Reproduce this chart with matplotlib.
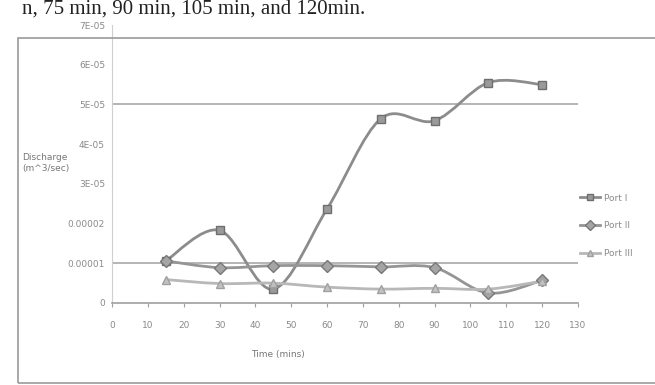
import matplotlib
matplotlib.use("Agg")
import matplotlib.pyplot as plt
import numpy as np
from matplotlib.lines import Line2D
from matplotlib.patches import PathPatch, Rectangle
from matplotlib.path import Path

# sampling times (min) and discharge at each port (m^3/sec)
time_min = [15, 30, 45, 60, 75, 90, 105, 120]
port_1 = [1.06e-5, 1.83e-5, 0.35e-5, 2.37e-5, 4.64e-5, 4.59e-5, 5.55e-5, 5.50e-5]
port_2 = [1.06e-5, 0.89e-5, 0.94e-5, 0.94e-5, 0.91e-5, 0.89e-5, 0.25e-5, 0.57e-5]
port_3 = [0.59e-5, 0.49e-5, 0.50e-5, 0.40e-5, 0.35e-5, 0.37e-5, 0.35e-5, 0.55e-5]
series_names = ["Port I", "Port II", "Port III"]

x_ticks = list(range(0, 140, 10))
y_ticks = [0, 1e-5, 2e-5, 3e-5, 4e-5, 5e-5, 6e-5, 7e-5]
y_tick_labels = ["0", "0.00001", "0.00002", "3E-05", "4E-05", "5E-05", "6E-05", "7E-05"]
grid_levels = [1e-5, 5e-5]


def smooth_path(x, y):
    # Catmull-Rom style bezier through the points (spreadsheet "smoothed line")
    pts = np.column_stack([x, y]).astype(float)
    verts = [pts[0]]
    codes = [Path.MOVETO]
    n = len(pts)
    for i in range(n - 1):
        p0 = pts[i - 1] if i > 0 else pts[i]
        p3 = pts[i + 2] if i + 2 < n else pts[i + 1]
        c1 = pts[i] + (pts[i + 1] - p0) / 6
        c2 = pts[i + 1] - (p3 - pts[i]) / 6
        verts += [c1, c2, pts[i + 1]]
        codes += [Path.CURVE4] * 3
    return Path(verts, codes)


fig = plt.figure(figsize=(6.55, 3.85), dpi=100)
fig.patch.set_facecolor("white")

# chart-area frame
fig.patches.append(Rectangle((18 / 655, 2 / 385), 650 / 655, 345 / 385,
                             transform=fig.transFigure, fill=False,
                             edgecolor="#9a9a9a", lw=1.2))

# running text of the page above the chart
fig.text(22 / 655, 1 - 14 / 385, "n, 75 min, 90 min, 105 min, and 120min.",
         family="Liberation Serif", fontsize=15, color="#222222", va="baseline")

ax = fig.add_axes([112 / 655, 1 - 303 / 385, 466 / 655, 278 / 385])
ax.set_xlim(0, 130)
ax.set_ylim(0, 7e-5)

for lvl in grid_levels:
    ax.axhline(lvl, color="#a8a8a8", lw=1.2, zorder=1)

styles = [
    dict(color="#8c8c8c", marker="s", mfc="#9a9a9a", mec="#6e6e6e"),
    dict(color="#959595", marker="D", mfc="#a5a5a5", mec="#777777"),
    dict(color="#b8b8b8", marker="^", mfc="#c2c2c2", mec="#a0a0a0"),
]
handles = []
for vals, st, name in zip([port_1, port_2, port_3], styles, series_names):
    ax.add_patch(PathPatch(smooth_path(time_min, vals), facecolor="none",
                           edgecolor=st["color"], lw=2.0, zorder=2))
    ax.plot(time_min, vals, ls="none", marker=st["marker"], ms=6,
            mfc=st["mfc"], mec=st["mec"], mew=1.0, zorder=3)
    handles.append(Line2D([], [], color=st["color"], lw=2.0, marker=st["marker"],
                          ms=5, mfc=st["mfc"], mec=st["mec"], label=name))

ax.set_xticks(x_ticks)
ax.set_yticks(y_ticks)
ax.set_yticklabels(y_tick_labels)
ax.tick_params(axis="both", labelsize=6.5, labelcolor="#8a8a8a", colors="#a0a0a0")
ax.tick_params(axis="x", length=3, pad=10)
ax.tick_params(axis="y", length=0, pad=5)

for side in ["top", "right"]:
    ax.spines[side].set_visible(False)
ax.spines["left"].set_color("#cfcfcf")
ax.spines["bottom"].set_color("#a0a0a0")
ax.spines["bottom"].set_linewidth(1.2)

fig.text(22 / 655, 1 - 163 / 385, "Discharge\n(m^3/sec)", fontsize=6.5,
         color="#777777", va="center", ha="left", linespacing=1.4)
fig.text(278 / 655, 1 - 355 / 385, "Time (mins)", fontsize=6.5,
         color="#777777", ha="center", va="center")

fig.legend(handles=handles, loc="center left",
           bbox_to_anchor=(572 / 655, 1 - 226 / 385), frameon=False,
           fontsize=6.5, labelcolor="#8a8a8a", handlelength=2.2,
           labelspacing=2.1, handletextpad=0.4)

fig.savefig("out.png", dpi=100, facecolor="white")
